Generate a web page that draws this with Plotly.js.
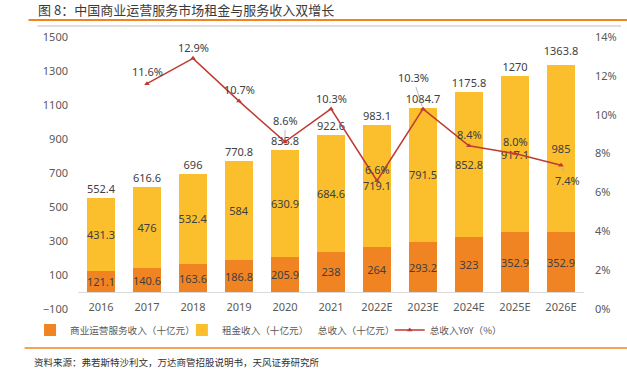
<!DOCTYPE html>
<html><head><meta charset="utf-8">
<script src="https://cdn.plot.ly/plotly-3.0.1.min.js"></script>
<style>html,body{margin:0;padding:0;background:#fff}#chart{width:627px;height:375px}</style>
</head><body><div id="chart"></div><script>
// ---- data ----
const categories = ['2016','2017','2018','2019','2020','2021','2022E','2023E','2024E','2025E','2026E'];
const serviceIncome = [121.1,140.6,163.6,186.8,205.9,238,264,293.2,323,352.9,352.9];
const rentIncome = [431.3,476,532.4,584,630.9,684.6,719.1,791.5,852.8,917.1,985];
const totalIncome = [552.4,616.6,696,770.8,835.8,922.6,983.1,1084.7,1175.8,1270,1363.8];
const totalYoY = [null,11.6,12.9,10.7,8.6,10.3,6.6,10.3,8.4,8.0,7.4];
const seriesNames = ['商业运营服务收入（十亿元）','租金收入（十亿元）','总收入（十亿元）','总收入YoY（%）'];
const leftTicks = [-100,100,300,500,700,900,1100,1300,1500];
const rightTicks = [0,2,4,6,8,10,12,14];

// ---- styling ----
const NUMFONT = 'Noto Sans, Noto Sans CJK SC, sans-serif';
const CJKFONT = 'Noto Sans CJK SC, Noto Sans, sans-serif';
const labelColor = '#404040';
const axisColor = '#595959';
// label offsets for YoY labels: [dx, dy, leaderLine]
const yoyOffsets = [null,[0,-12,false],[0,-11,false],[0,-12,false],[0,-21,true],[0,-10,false],[0,-11,false],[-10,-31,true],[0,-11,false],[0,-12,false],[6,15,true]];
// legend text start positions (px)
const legendTextX = [70, 222, 318, 430];

// plot area in px
const L = 77.5, R = 584, T = 37, B = 309;
const W = 627, H = 375;
const px = x => (x - L) / (R - L);
const py = y => (B - y) / (B - T);

const traces = [
  {type:'bar', name:seriesNames[0], x:categories, y:serviceIncome, legend:'legend',
   marker:{color:'#F08423'}, text:serviceIncome.map(String),
   textposition:'inside', insidetextanchor:'middle', constraintext:'none', textangle:0,
   textfont:{family:NUMFONT, size:11, color:labelColor}, hoverinfo:'skip'},
  {type:'bar', name:seriesNames[1], x:categories, y:rentIncome, legend:'legend2',
   marker:{color:'#FBBE2C'}, text:rentIncome.map(String),
   textposition:'inside', insidetextanchor:'middle', constraintext:'none', textangle:0,
   textfont:{family:NUMFONT, size:11, color:labelColor}, hoverinfo:'skip'},
  {type:'scatter', mode:'markers+text', name:seriesNames[2], x:categories, y:totalIncome, legend:'legend3',
   marker:{color:'rgba(0,0,0,0)', size:2}, text:totalIncome.map(String),
   textposition:'top center', textfont:{family:NUMFONT, size:11, color:labelColor}, hoverinfo:'skip'},
  {type:'scatter', mode:'lines+markers', name:seriesNames[3], x:categories, y:totalYoY, yaxis:'y2', legend:'legend4',
   line:{color:'#BE3A32', width:1.5}, marker:{color:'#BE3A32', size:5, symbol:'triangle-up'},
   connectgaps:false, hoverinfo:'skip'}
];

const annotations = [];
categories.forEach((c,i) => {
  const v = totalYoY[i];
  if (v === null) return;
  const o = yoyOffsets[i];
  const a = {x:i, y:v, xref:'x', yref:'y2', text:v.toFixed(1)+'%',
    font:{family:NUMFONT, size:11, color:labelColor}};
  if (o[2]) {
    Object.assign(a, {showarrow:true, ax:o[0], ay:o[1], arrowhead:0, arrowwidth:0.8,
      arrowcolor:'#A6A6A6', standoff:3, startstandoff:0});
  } else {
    Object.assign(a, {showarrow:false, xshift:o[0], yshift:-o[1]});
  }
  annotations.push(a);
});
annotations.push({xref:'paper', yref:'paper', x:px(31), y:py(362), xanchor:'left', yanchor:'middle',
  showarrow:false, text:'资料来源：弗若斯特沙利文，万达商管招股说明书，天风证券研究所',
  font:{family:CJKFONT, size:9.5, color:'#333333'}});

function legendAt(textX) {
  return {orientation:'h', x:px(textX - 40.5), xanchor:'left', y:py(330), yanchor:'middle',
    font:{family:CJKFONT, size:9.6, color:axisColor}, itemclick:false, bgcolor:'rgba(0,0,0,0)'};
}

const layout = {
  width:W, height:H, paper_bgcolor:'#fff', plot_bgcolor:'#fff',
  margin:{l:L, r:W-R, t:T, b:H-B, pad:0, autoexpand:false},
  title:{text:'图 8：中国商业运营服务市场租金与服务收入双增长', xref:'container', yref:'container',
    x:38/W, xanchor:'left', y:(H-10)/H, yanchor:'middle',
    font:{family:CJKFONT, size:13, color:'#3a3a3a'}},
  barmode:'stack', bargap:0.37, showlegend:true,
  legend:legendAt(legendTextX[0]),
  legend2:legendAt(legendTextX[1]),
  legend3:legendAt(legendTextX[2]),
  legend4:legendAt(legendTextX[3]),
  xaxis:{type:'category', range:[-0.5, categories.length - 0.5], autorange:false,
    anchor:'free', position:0.037, showline:false, ticks:'', showgrid:false, zeroline:false,
    tickfont:{family:NUMFONT, size:11, color:axisColor}, fixedrange:true},
  yaxis:{range:[-100,1500], tickvals:leftTicks, showgrid:false, zeroline:true, zerolinecolor:'#D9D9D9',
    zerolinewidth:1, showline:false, ticks:'', ticklabelstandoff:9,
    tickfont:{family:NUMFONT, size:11, color:axisColor}, fixedrange:true},
  yaxis2:{range:[0,14], tickvals:rightTicks, ticktext:rightTicks.map(t=>t+'%'), overlaying:'y', side:'right',
    showgrid:false, zeroline:false, showline:false, ticks:'', ticklabelstandoff:10,
    tickfont:{family:NUMFONT, size:11, color:axisColor}, fixedrange:true},
  annotations:annotations,
  shapes:[
    {type:'line', xref:'paper', yref:'paper', x0:px(28), x1:px(627), y0:py(20), y1:py(20), line:{color:'#F08423', width:2}},
    {type:'line', xref:'paper', yref:'paper', x0:px(37), x1:px(621), y0:py(26), y1:py(26), line:{color:'#BFBFBF', width:1}},
    {type:'line', xref:'paper', yref:'paper', x0:px(24), x1:px(627), y0:py(348), y1:py(348), line:{color:'#F08423', width:1.5}}
  ]
};

Plotly.newPlot('chart', traces, layout, {displayModeBar:false, staticPlot:true});
</script></body></html>
